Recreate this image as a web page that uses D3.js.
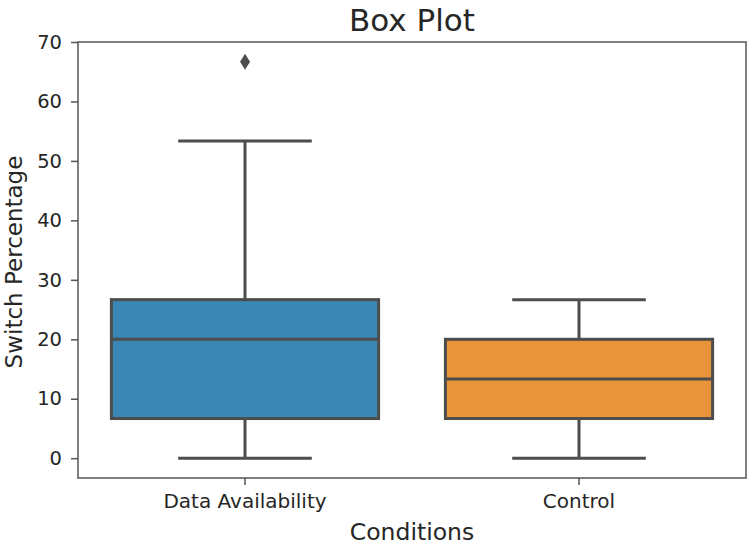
<!DOCTYPE html>
<html>
<head>
<meta charset="utf-8">
<script src="https://cdn.jsdelivr.net/npm/d3@7.9.0/dist/d3.min.js"></script>
<style>
  body { margin: 0; background: #fff; }
</style>
</head>
<body>
<svg id="chart" width="748" height="546" font-family="DejaVu Sans"></svg>
<script>
// box stats
const categories = ['Data Availability', 'Control'];
const whiskerLow = [0, 0];
const q1 = [6.67, 6.67];
const median = [20, 13.33];
const q3 = [26.67, 20];
const whiskerHigh = [53.33, 26.67];
const outliers = [[66.67], []];
const boxColors = ['#3a87b3', '#e8943a'];
const yTicks = [0, 10, 20, 30, 40, 50, 60, 70];

const svg = d3.select('#chart');
const m = { left: 78, right: 2, top: 42, bottom: 68 };
const W = 748, H = 546;
const line = '#4d4d4d';
const font = 'DejaVu Sans';

const x = d3.scaleBand().domain(categories).range([m.left, W - m.right]).paddingInner(0.2).paddingOuter(0.1);
const y = d3.scaleLinear().domain([-3.33, 70]).range([H - m.bottom, m.top]);

const data = categories.map((c, i) => ({
  cat: c, lo: whiskerLow[i], q1: q1[i], med: median[i], q3: q3[i], hi: whiskerHigh[i],
  out: outliers[i], color: boxColors[i]
}));

const g = svg.append('g');
const bw = x.bandwidth();

data.forEach(d => {
  const cx = x(d.cat) + bw / 2;
  // whiskers
  g.append('line').attr('x1', cx).attr('x2', cx).attr('y1', y(d.q3)).attr('y2', y(d.hi))
    .attr('stroke', line).attr('stroke-width', 3);
  g.append('line').attr('x1', cx).attr('x2', cx).attr('y1', y(d.q1)).attr('y2', y(d.lo))
    .attr('stroke', line).attr('stroke-width', 3);
  [d.lo, d.hi].forEach(v => {
    g.append('line').attr('x1', cx - bw / 4).attr('x2', cx + bw / 4).attr('y1', y(v)).attr('y2', y(v))
      .attr('stroke', line).attr('stroke-width', 3);
  });
  // box
  g.append('rect').attr('x', x(d.cat)).attr('width', bw)
    .attr('y', y(d.q3)).attr('height', y(d.q1) - y(d.q3))
    .attr('fill', d.color).attr('stroke', line).attr('stroke-width', 3);
  g.append('line').attr('x1', x(d.cat)).attr('x2', x(d.cat) + bw).attr('y1', y(d.med)).attr('y2', y(d.med))
    .attr('stroke', line).attr('stroke-width', 3);
  // fliers (thin diamond)
  d.out.forEach(v => {
    g.append('path')
      .attr('d', `M${cx},${y(v) - 8} L${cx + 5},${y(v)} L${cx},${y(v) + 8} L${cx - 5},${y(v)} Z`)
      .attr('fill', line);
  });
});

// frame
svg.append('rect').attr('x', m.left).attr('y', m.top)
  .attr('width', W - m.right - m.left).attr('height', H - m.bottom - m.top)
  .attr('fill', 'none').attr('stroke', '#555').attr('stroke-width', 1.5);

// axes (d3 sets font-family on the group, so override it)
const yAxis = svg.append('g').attr('transform', `translate(${m.left},0)`)
  .call(d3.axisLeft(y).tickValues(yTicks).tickSize(7).tickPadding(9))
  .attr('font-family', font);
yAxis.select('.domain').remove();
yAxis.selectAll('line').attr('stroke', '#555').attr('stroke-width', 1.5);
yAxis.selectAll('text').attr('font-size', 19.5).attr('fill', '#262626');

const xAxis = svg.append('g').attr('transform', `translate(0,${H - m.bottom})`)
  .call(d3.axisBottom(x).tickSize(7).tickPadding(9))
  .attr('font-family', font);
xAxis.select('.domain').remove();
xAxis.selectAll('line').attr('stroke', '#555').attr('stroke-width', 1.5);
xAxis.selectAll('text').attr('font-size', 20).attr('fill', '#262626');

// labels
svg.append('text').attr('x', (m.left + W - m.right) / 2).attr('y', 31)
  .attr('text-anchor', 'middle').attr('font-size', 31).attr('fill', '#262626').text('Box Plot');
svg.append('text').attr('x', (m.left + W - m.right) / 2).attr('y', 540)
  .attr('text-anchor', 'middle').attr('font-size', 23.5).attr('fill', '#262626').text('Conditions');
svg.append('text').attr('transform', `translate(22,${(m.top + H - m.bottom) / 2 + 2}) rotate(-90)`)
  .attr('text-anchor', 'middle').attr('font-size', 23).attr('fill', '#262626').text('Switch Percentage');
</script>
</body>
</html>
